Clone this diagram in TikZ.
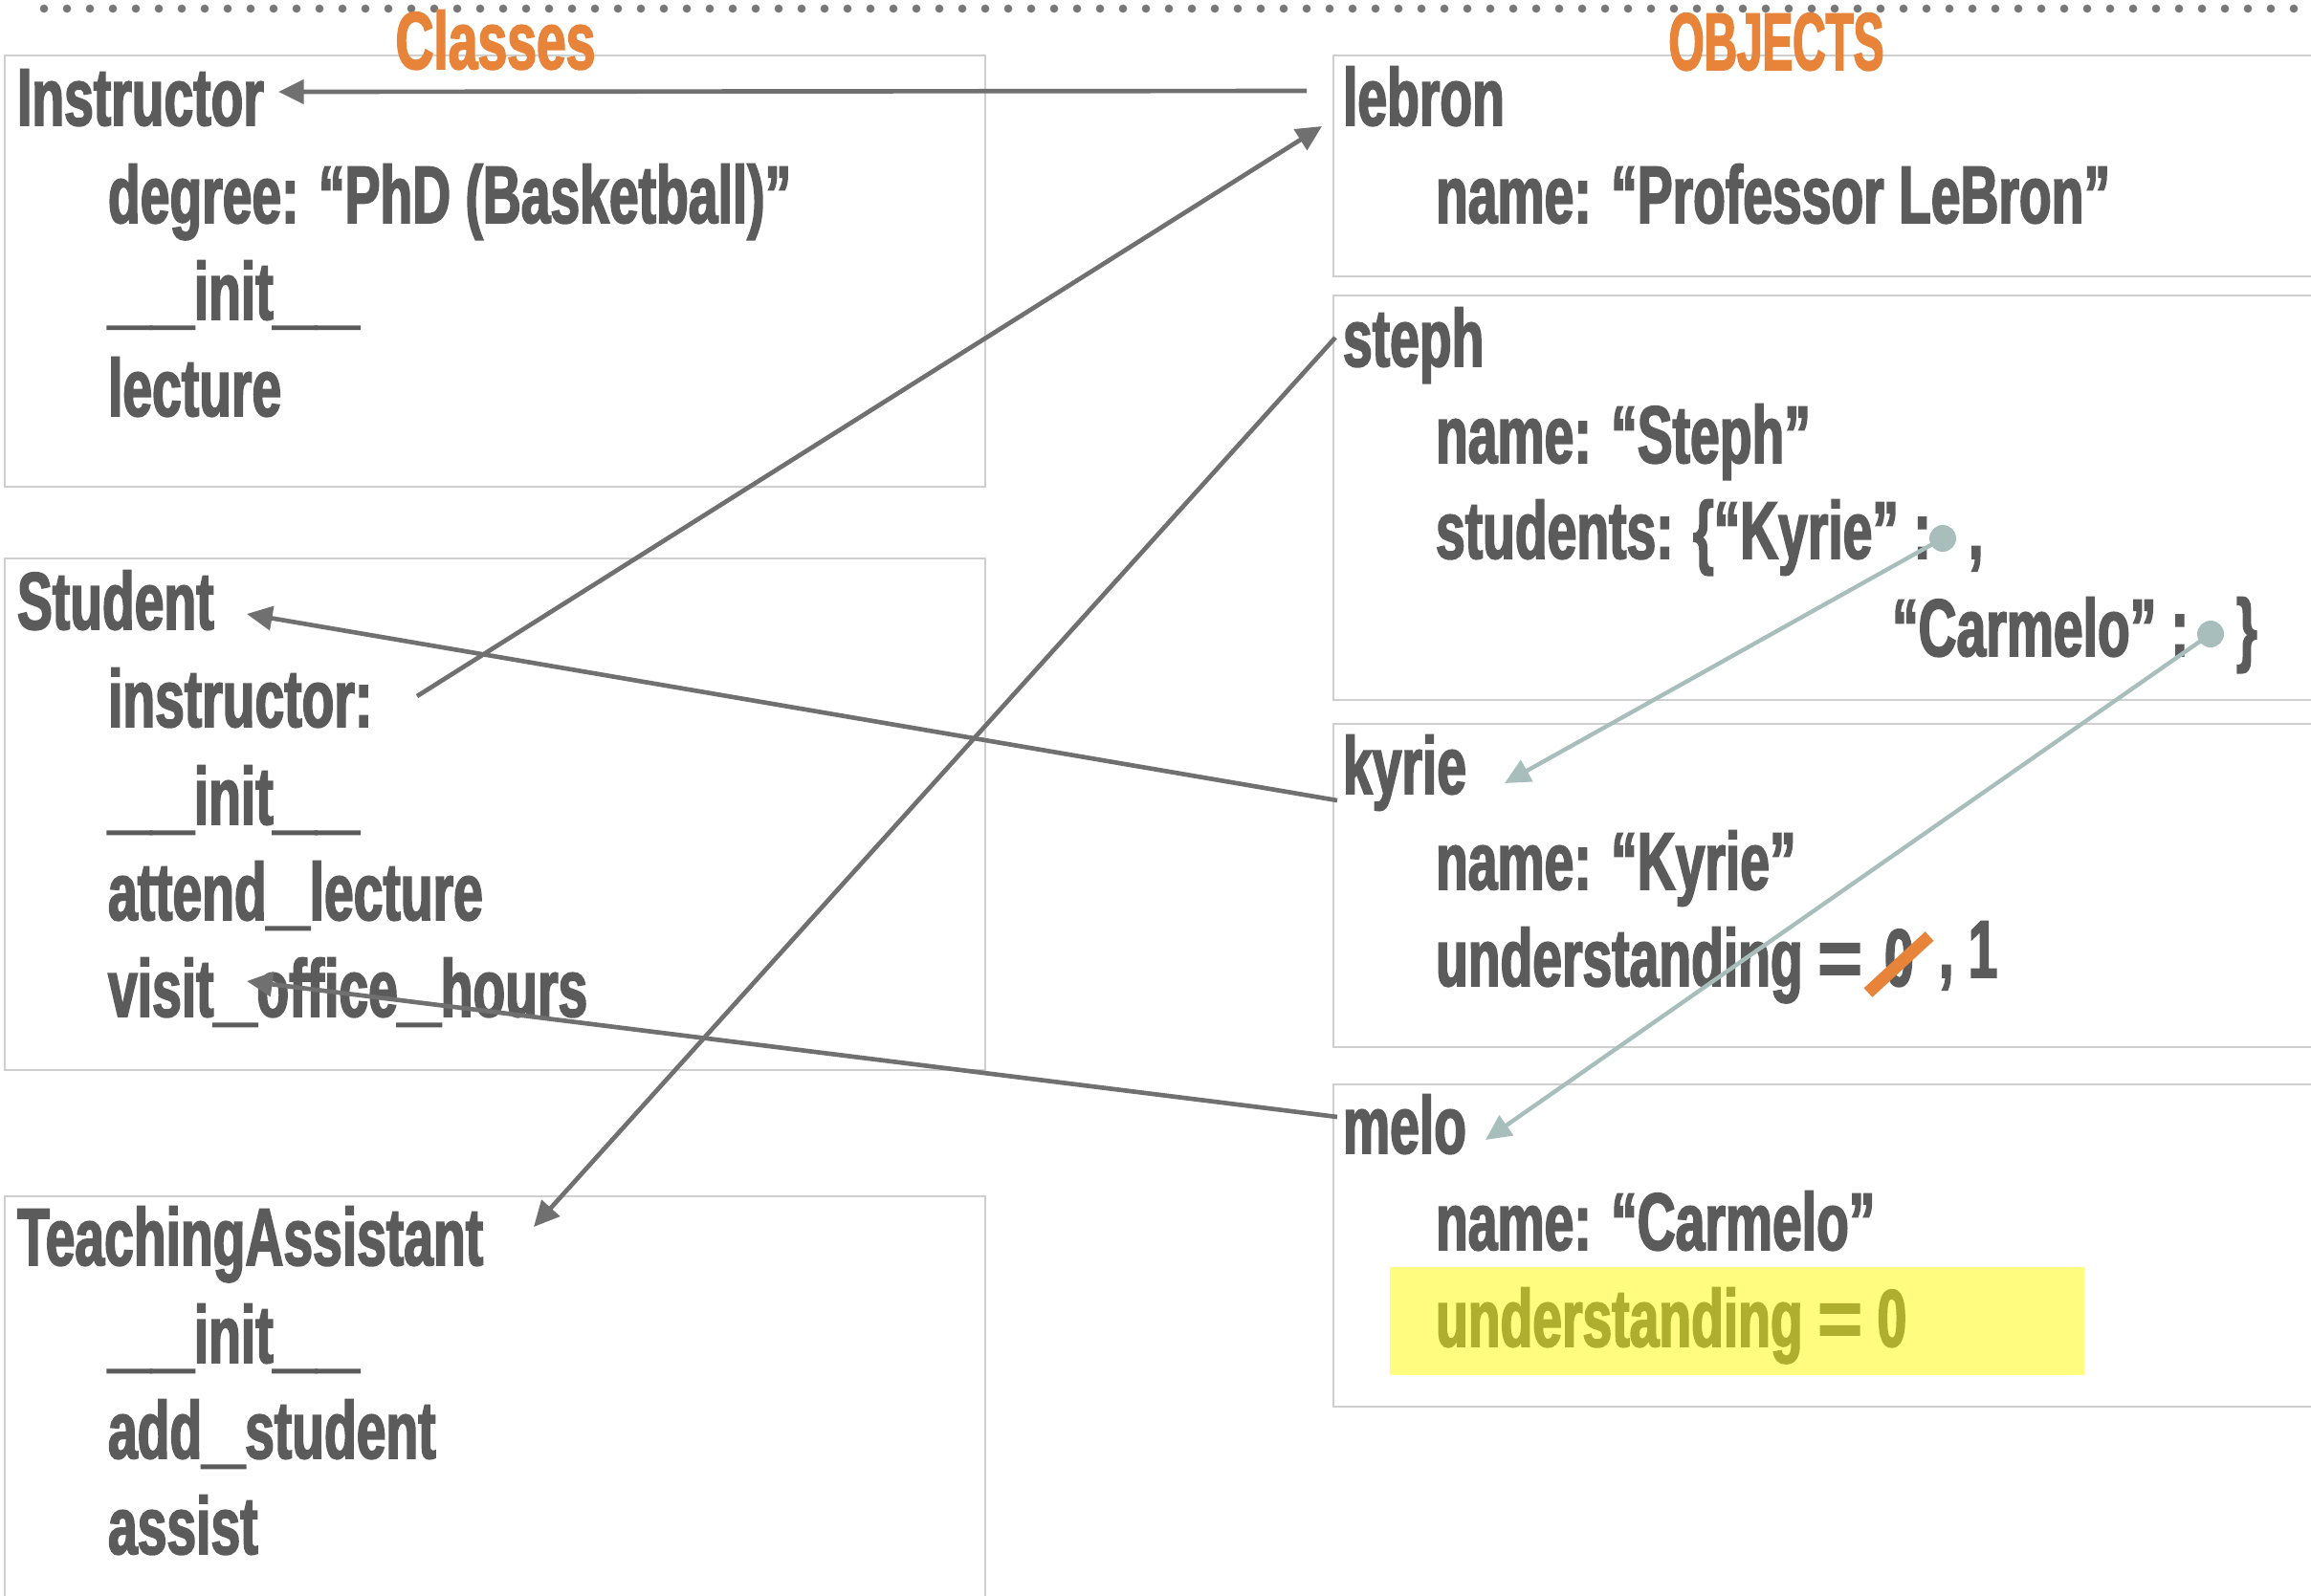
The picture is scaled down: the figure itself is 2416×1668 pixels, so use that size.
\documentclass[tikz,border=0pt]{standalone}
\usepackage{fontspec}
\usetikzlibrary{arrows.meta,calc}
\newfontfamily\dinfont[FakeStretch=0.65,FakeBold=2]{Liberation Sans}
\newfontfamily\dincaps[FakeStretch=0.56,FakeBold=2]{Liberation Sans}
\newfontfamily\dinwide[FakeStretch=0.95,FakeBold=2]{Liberation Sans}
% underscores and the equals sign are set wider than the letters
\newcommand\us{{\dinwide\bfseries\_}}
\newcommand\eqs{{\dinwide\bfseries=}}

\definecolor{ink}{HTML}{5B5B5B}
\definecolor{framegray}{HTML}{CFCFCF}
\definecolor{arrowgray}{HTML}{707070}
\definecolor{linkteal}{HTML}{A7BEBD}
\definecolor{hdrorange}{HTML}{E8833A}
\definecolor{hlyellow}{HTML}{FFFC7F}
\definecolor{olive}{HTML}{AFAE2F}
\definecolor{dotgray}{HTML}{777777}

\tikzset{
  txt/.style={anchor=base west, inner sep=0pt, outer sep=0pt, text=ink,
    font=\dinfont\bfseries\fontsize{25.5pt}{30pt}\selectfont},
  hdr/.style={anchor=base, inner sep=0pt, text=hdrorange,
    font=\dinfont\bfseries\fontsize{25.5pt}{30pt}\selectfont},
  frame/.style={draw=framegray, line width=0.8pt},
  dotrule/.style={draw=dotgray, line width=2.6pt, line cap=round, dash pattern=on 0pt off 7.2pt},
  ref/.style={draw=arrowgray, line width=1.4pt, -{Triangle[length=8pt,width=7.5pt]}},
  link/.style={draw=linkteal, line width=1.3pt, -{Triangle[length=8pt,width=7.5pt]}},
  slot/.style={circle, fill=linkteal, inner sep=0pt, minimum size=8.4pt},
  strike/.style={draw=hdrorange, line width=3.9pt},
}

\begin{document}
\begin{tikzpicture}[x=0.3pt, y=-0.3pt]
\useasboundingbox (0,0) rectangle (2416,1668);
\clip (0,0) rectangle (2416,1668);
\fill[white] (0,0) rectangle (2416,1668);

% dotted rule along the top
\draw[dotrule] (46,9) -- (2404,9);

% class frames
\draw[frame] (5,58) rectangle (1030,509);
\draw[frame] (5,584) rectangle (1030,1119);
\draw[frame] (5,1251) rectangle (1030,1700);

% object frames (open to the right edge)
\draw[frame] (2440,58) -- (1394,58) -- (1394,289) -- (2440,289);
\draw[frame] (2440,309) -- (1394,309) -- (1394,732) -- (2440,732);
\draw[frame] (2440,757) -- (1394,757) -- (1394,1095) -- (2440,1095);
\draw[frame] (2440,1134) -- (1394,1134) -- (1394,1471) -- (2440,1471);

% headings
\node[hdr] (classes) at (518,72) {Classes};
\node[hdr, font=\dincaps\bfseries\fontsize{25.5pt}{30pt}\selectfont] (objects) at (1857,73) {OBJECTS};

% Instructor class
\node[txt] (instr) at (18,131) {Instructor};
\node[txt] (instrdeg) at (113,233) {degree: “PhD (Basketball)”};
\node[txt] (instrinit) at (113,334) {\us\us init\us\us};
\node[txt] (instrlect) at (113,435) {lecture};

% Student class
\node[txt] (stud) at (18,658) {Student};
\node[txt] (studinst) at (113,760) {instructor:};
\node[txt] (studinit) at (113,862) {\us\us init\us\us};
\node[txt] (studattend) at (113,962) {attend\us lecture};
\node[txt] (visit) at (113,1063) {visit\us office\us hours};

% TeachingAssistant class
\node[txt] (ta) at (18,1323) {TeachingAssistant};
\node[txt] (tainit) at (113,1425) {\us\us init\us\us};
\node[txt] (taadd) at (113,1525) {add\us student};
\node[txt] (taassist) at (113,1625) {assist};

% lebron object
\node[txt] (lebron) at (1404,131) {lebron};
\node[txt] (lebname) at (1501,233) {name: “Professor LeBron”};

% steph object
\node[txt] (steph) at (1404,383) {steph};
\node[txt] (stephname) at (1501,484) {name: “Steph”};
\node[txt] (stephstud) at (1501,584) {students: \{“Kyrie” :};
\node[slot] (kdot) at (2031,563) {};
\node[txt] (kcomma) at (2058,584) {,};
\node[txt] (stephcarm) at (1978,686) {“Carmelo” :};
\node[slot] (cdot) at (2311,663) {};
\node[txt] (cbrace) at (2338,686) {\}};

% kyrie object
\node[txt] (kyrie) at (1404,830) {kyrie};
\node[txt] (kyname) at (1501,930) {name: “Kyrie”};
\node[txt] (kyund) at (1501,1031) {understanding \eqs};
\node[txt] (kyzero) at (1970,1031) {0};
\node[txt] (kyone) at (2027,1022) {, 1};
\draw[strike] ($(kyzero.base west)+(-17,7)$) -- ($(kyzero.base west)+(47,-52)$);

% melo object
\node[txt] (melo) at (1404,1206) {melo};
\node[txt] (meloname) at (1501,1307) {name: “Carmelo”};
\fill[hlyellow] (1453,1325) rectangle (2179,1438);
\node[txt, text=olive] (melound) at (1501,1408) {understanding \eqs\ 0};

% references from objects to classes and back
\draw[ref] ($(lebron.base west)+(-38,-36)$) -- ($(instr.base west)+(273,-35)$);
\draw[ref] ($(studinst.base west)+(323,-32)$) -- ($(lebron.base west)+(-22,1)$);
\draw[ref] ($(kyrie.base west)+(-6,7)$) -- ($(stud.base west)+(240,-16)$);
\draw[ref] ($(melo.base west)+(-6,-38)$) -- ($(visit.base west)+(145,-37)$);
\draw[ref] ($(steph.base west)+(-8,-30)$) -- ($(ta.base west)+(540,-40)$);

% dictionary entries pointing at student objects
\draw[link] (kdot.center) -- ($(kyrie.base west)+(169,-11)$);
\draw[link] (cdot.center) -- ($(melo.base west)+(149,-14)$);
\end{tikzpicture}
\end{document}
